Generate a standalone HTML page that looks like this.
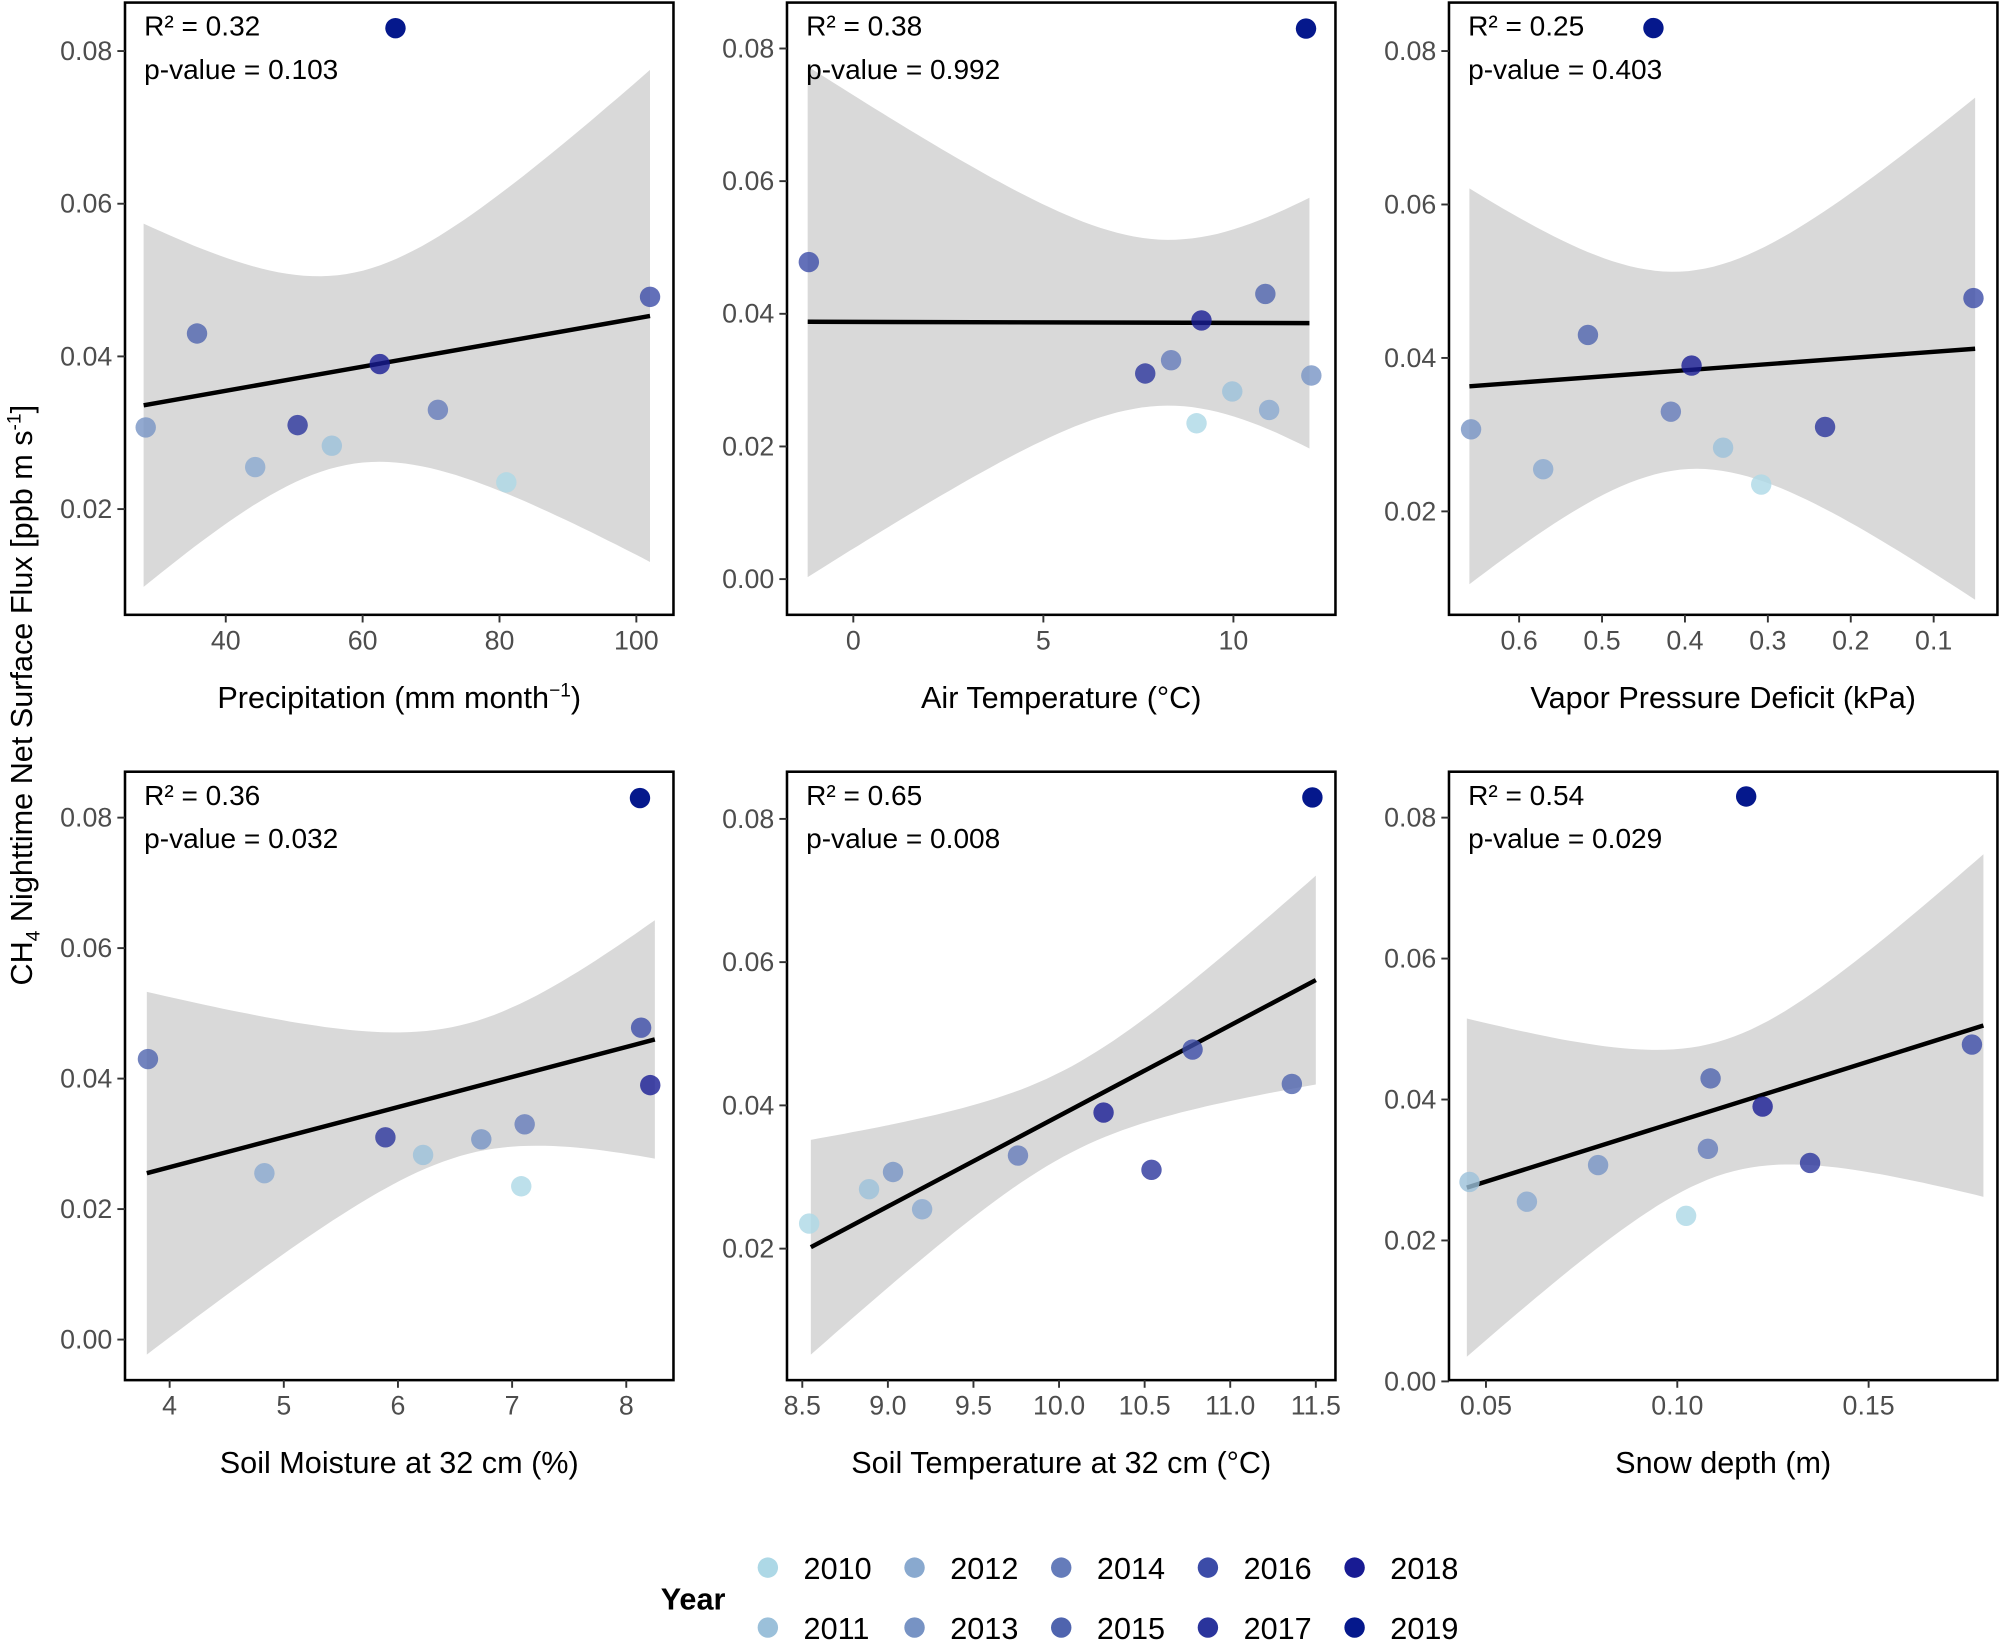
<!DOCTYPE html>
<html><head><meta charset="utf-8"><style>
html,body{margin:0;padding:0;background:#fff}
svg{display:block;font-family:"Liberation Sans",Arial,sans-serif}
</style></head><body>
<svg id="chart" width="2000" height="1641" viewBox="0 0 1568 1286.5"></svg>
<script>
const years=[2010,2011,2012,2013,2014,2015,2016,2017,2018,2019];
const yearColors=["#add8e6","#9bc0da","#89a9cf","#7793c4","#657cba","#4f64ae","#3c4ca8","#2a349c","#181b93","#05188c"];
const flux=[0.0235,0.0283,0.0255,0.0307,0.033,0.043,0.0478,0.031,0.039,0.083];
const precip=[81,55.5,44.3,28.3,71,35.8,102,50.5,62.5,64.8];
const airTemp=[9.03,9.97,10.94,12.05,8.36,10.84,-1.17,7.68,9.16,11.91];
const vpd=[0.308,0.354,0.571,0.658,0.417,0.517,0.052,0.231,0.392,0.438];
const soilMoist=[7.08,6.22,4.83,6.73,7.11,3.81,8.13,5.89,8.21,8.12];
const soilTemp=[8.54,8.89,9.2,9.03,9.76,11.36,10.78,10.54,10.26,11.48];
const snow=[0.1023,0.0457,0.0607,0.0793,0.108,0.1087,0.177,0.1347,0.1223,0.118];
const r2Labels=["R² = 0.32","R² = 0.38","R² = 0.25","R² = 0.36","R² = 0.65","R² = 0.54"];
const pLabels=["p-value = 0.103","p-value = 0.992","p-value = 0.403","p-value = 0.032","p-value = 0.008","p-value = 0.029"];
// fit: [xStart, xEnd, yStart, yEnd, xMid, halfWidthMin, halfWidthAtStart]
const fit1=[28,102,0.0336,0.0453,58,0.0125,0.0238];
const fit2=[-1.2,12.0,0.0388,0.0386,8.3,0.0125,0.0385];
const fit3=[0.66,0.05,0.0363,0.0412,0.40,0.0129,0.0258];
const fit4=[3.8,8.25,0.0255,0.046,6.6,0.010,0.0278];
const fit5=[8.55,11.5,0.0202,0.0575,10.05,0.006,0.015];
const fit6=[0.045,0.18,0.0275,0.0505,0.112,0.0095,0.024];
const xTicks1=[40,60,80,100],xTicks2=[0,5,10],xTicks3=[0.6,0.5,0.4,0.3,0.2,0.1];
const xTicks4=[4,5,6,7,8],xTicks5=[8.5,9,9.5,10,10.5,11,11.5],xTicks6=[0.05,0.10,0.15];
const yTicksA=[0.02,0.04,0.06,0.08],yTicksB=[0,0.02,0.04,0.06,0.08];

const panels=[
 {name:"precipitation",x:precip,fit:fit1,xt:xTicks1,yt:yTicksA,fmt:v=>String(v),box:[98,2,430,480],x0v:40,x0p:177,xs:107.3/20,y08:40,yd:119.7,title:'Precipitation (mm month<tspan dy="-9" font-size="15">−1</tspan><tspan dy="9">)</tspan>'},
 {name:"air-temperature",x:airTemp,fit:fit2,xt:xTicks2,yt:yTicksB,fmt:v=>String(v),box:[617,2,430,480],x0v:0,x0p:669,xs:149/5,y08:38,yd:104,title:'Air Temperature (°C)'},
 {name:"vpd",x:vpd,fit:fit3,xt:xTicks3,yt:yTicksA,fmt:v=>v.toFixed(1),box:[1136,2,430,480],x0v:0.6,x0p:1191,xs:-650,y08:40,yd:120.3,title:'Vapor Pressure Deficit (kPa)'},
 {name:"soil-moisture",x:soilMoist,fit:fit4,xt:xTicks4,yt:yTicksB,fmt:v=>String(v),box:[98,605,430,477],x0v:4,x0p:133,xs:89.5,y08:641,yd:102.3,title:'Soil Moisture at 32 cm (%)'},
 {name:"soil-temperature",x:soilTemp,fit:fit5,xt:xTicks5,yt:yTicksA,fmt:v=>v.toFixed(1),box:[617,605,430,477],x0v:8.5,x0p:629,xs:134.2,y08:642,yd:112.3,title:'Soil Temperature at 32 cm (°C)'},
 {name:"snow-depth",x:snow,fit:fit6,xt:xTicks6,yt:yTicksB,fmt:v=>v.toFixed(2),box:[1136,605,430,477],x0v:0.05,x0p:1165,xs:3000,y08:641,yd:110.5,title:'Snow depth (m)'}
];
const NS="http://www.w3.org/2000/svg";
const svg=document.getElementById('chart');
function mk(tag,attrs,parent){const e=document.createElementNS(NS,tag);for(const k in attrs)e.setAttribute(k,attrs[k]);(parent||svg).appendChild(e);return e;}

panels.forEach((p,i)=>{
 const g=mk('g',{});
 
 
 const X=v=>p.x0p+(v-p.x0v)*p.xs;
 const Y=v=>p.y08+(0.08-v)/0.02*p.yd;
 const [bx,by,bw,bh]=p.box;
 const f=p.fit;
 const k=(f[6]*f[6]-f[5]*f[5])/((f[0]-f[4])*(f[0]-f[4]));
 const up=[],lo=[];
 for(let s=0;s<=60;s++){
  const xv=f[0]+(f[1]-f[0])*s/60;
  const yv=f[2]+(f[3]-f[2])*s/60;
  const hw=Math.sqrt(f[5]*f[5]+k*(xv-f[4])*(xv-f[4]));
  up.push(X(xv).toFixed(1)+','+Y(yv+hw).toFixed(1));
  lo.unshift(X(xv).toFixed(1)+','+Y(yv-hw).toFixed(1));
 }
 const rib=mk('polygon',{points:up.concat(lo).join(' '),fill:'#d9d9d9'},g);
 
 
 const ln=mk('line',{x1:X(f[0]),y1:Y(f[2]),x2:X(f[1]),y2:Y(f[3]),stroke:'#000','stroke-width':3.5},g);
 
 
 p.x.forEach((xv,j)=>{
  const c=mk('circle',{cx:X(xv),cy:Y(flux[j]),r:8,fill:yearColors[j],'fill-opacity':j==9?1:0.8},g);
  
  
 });
 const fr=mk('rect',{x:bx,y:by,width:bw,height:bh,fill:'none',stroke:'#000','stroke-width':2},g);
 
 
 p.yt.forEach(v=>{
  mk('line',{x1:bx-6,x2:bx,y1:Y(v),y2:Y(v),stroke:'#333','stroke-width':1.5},g);
  const t=mk('text',{x:bx-10,y:Y(v)+7,'text-anchor':'end','font-size':21,fill:'#4d4d4d'},g);
  t.textContent=v.toFixed(2);
  
  
 });
 p.xt.forEach(v=>{
  mk('line',{x1:X(v),x2:X(v),y1:by+bh,y2:by+bh+6,stroke:'#333','stroke-width':1.5},g);
  const t=mk('text',{x:X(v),y:by+bh+27,'text-anchor':'middle','font-size':21,fill:'#4d4d4d'},g);
  t.textContent=p.fmt(v);
  
  
 });
 const r=mk('text',{x:bx+15,y:by+26,'font-size':22,fill:'#000'},g);
 r.textContent=r2Labels[i];
 
 
 const pv=mk('text',{x:bx+15,y:by+60,'font-size':22,fill:'#000'},g);
 pv.textContent=pLabels[i];
 
 
 const tt=mk('text',{x:bx+bw/2,y:by+bh+73,'text-anchor':'middle','font-size':24,fill:'#000'},g);
 tt.innerHTML=p.title;
 
 
});
const yt=mk('text',{x:0,y:0,transform:'translate(25,545) rotate(-90)','text-anchor':'middle','font-size':24,fill:'#000'});
yt.innerHTML='CH<tspan dy="6" font-size="15">4</tspan><tspan dy="-6"> Nighttime Net Surface Flux [ppb m s</tspan><tspan dy="-9" font-size="15">-1</tspan><tspan dy="9">]</tspan>';


const lg=mk('g',{});


const lt=mk('text',{x:518,y:1262,'font-size':24,'font-weight':'bold',fill:'#000'},lg);
lt.textContent='Year';


years.forEach((yr,j)=>{
 const col=Math.floor(j/2),row=j%2;
 const cx=602+col*115,cy=1229+row*47;
 const c=mk('circle',{cx:cx,cy:cy,r:8,fill:yearColors[j]},lg);
 
 
 const t=mk('text',{x:cx+28,y:cy+9,'font-size':24,fill:'#000'},lg);
 t.textContent=yr;
 
 
});
</script>
</body></html>
